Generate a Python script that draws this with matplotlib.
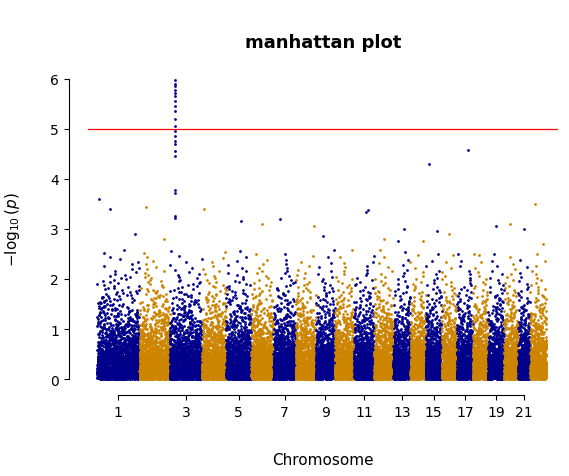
import numpy as np
import matplotlib.pyplot as plt

# relative width (SNP count share) of each chromosome
chrom_w = [42, 30, 32, 24, 25, 22, 22, 20, 19, 19, 20, 19, 17, 15, 16, 15,
           16, 15, 16, 14, 12, 16]
snp_per_unit = 50

# stand-out hits: (chromosome, relative position, -log10 p)
peaks_chr = [1, 1, 1, 2, 2, 4, 5, 6, 7, 8, 9, 11, 11, 12, 13, 13, 14,
             15, 15, 16, 17, 18, 19, 20, 21, 22, 22]
peaks_pos = [0.05, 0.3, 0.9, 0.2, 0.8, 0.1, 0.6, 0.5, 0.3, 0.9, 0.4, 0.6, 0.7,
             0.5, 0.3, 0.6, 0.8, 0.2, 0.7, 0.5, 0.7, 0.1, 0.5, 0.4, 0.5, 0.3, 0.8]
peaks_val = [3.6, 3.4, 2.9, 3.43, 2.8, 3.4, 3.15, 3.1, 3.2, 3.05, 2.85, 3.33,
             3.37, 2.8, 2.75, 3.0, 2.75, 4.3, 2.95, 2.9, 4.57, 2.5, 3.05, 3.1,
             3.0, 3.5, 2.7]

# the chromosome 3 signal column
spike_chr = 3
spike_pos = 0.18
spike_val = [3.22, 3.25, 3.72, 3.78, 4.45, 4.55, 4.7, 4.75, 4.85, 4.95, 5.05,
             5.2, 5.35, 5.45, 5.55, 5.65, 5.72, 5.78, 5.85, 5.9, 5.97]

threshold = 5
colors = ['#00008B', '#CD8500']

fig = plt.figure(figsize=(5.69, 4.77), dpi=100)
ax = fig.add_axes([0.155, 0.178, 0.825, 0.68])

starts = np.concatenate([[0], np.cumsum(chrom_w)[:-1]])
centers = []
for i, w in enumerate(chrom_w):
    n = w * snp_per_unit
    # null-expected -log10 p quantiles, scattered along the chromosome
    q = -np.log10((np.arange(n) + 0.5) / n)
    key = (np.sin((np.arange(n) + 1 + 1000 * i) * 12.9898) * 43758.5453) % 1
    y = q[np.argsort(key)]
    x = starts[i] + np.linspace(0, w, n)
    mask = y < 2.6
    ax.plot(x[mask], y[mask], '.', ms=2, color=colors[i % 2], lw=0)
    centers.append(starts[i] + w / 2)

for ch, p, v in zip(peaks_chr, peaks_pos, peaks_val):
    ax.plot(starts[ch - 1] + p * chrom_w[ch - 1], v, '.', ms=2,
            color=colors[(ch - 1) % 2])
sx = starts[spike_chr - 1] + spike_pos * chrom_w[spike_chr - 1]
ax.plot([sx] * len(spike_val), spike_val, '.', ms=2, color=colors[0])

ax.axhline(threshold, color='red', lw=0.9)

total = sum(chrom_w)
ax.set_xlim(-0.02 * total, total * 1.025)
ax.set_ylim(-0.24, 6.24)
ax.set_yticks(range(7))
ticks = [centers[i] for i in range(0, 22, 2)]
ax.set_xticks(ticks)
ax.set_xticklabels([str(i + 1) for i in range(0, 22, 2)])
for s in ['top', 'right']:
    ax.spines[s].set_visible(False)
ax.spines['left'].set_position(('outward', 14))
ax.spines['bottom'].set_position(('outward', 3))
ax.spines['left'].set_bounds(0, 6)
ax.spines['bottom'].set_bounds(ticks[0], ticks[-1])
ax.tick_params(labelsize=10)

ax.set_title('manhattan plot', fontsize=13, fontweight='bold', pad=14)
ax.set_xlabel('Chromosome', fontsize=11, labelpad=24)
ax.set_ylabel(r'$-\log_{10}(p)$', fontsize=11, labelpad=20)

fig.savefig('out.png', dpi=100)
